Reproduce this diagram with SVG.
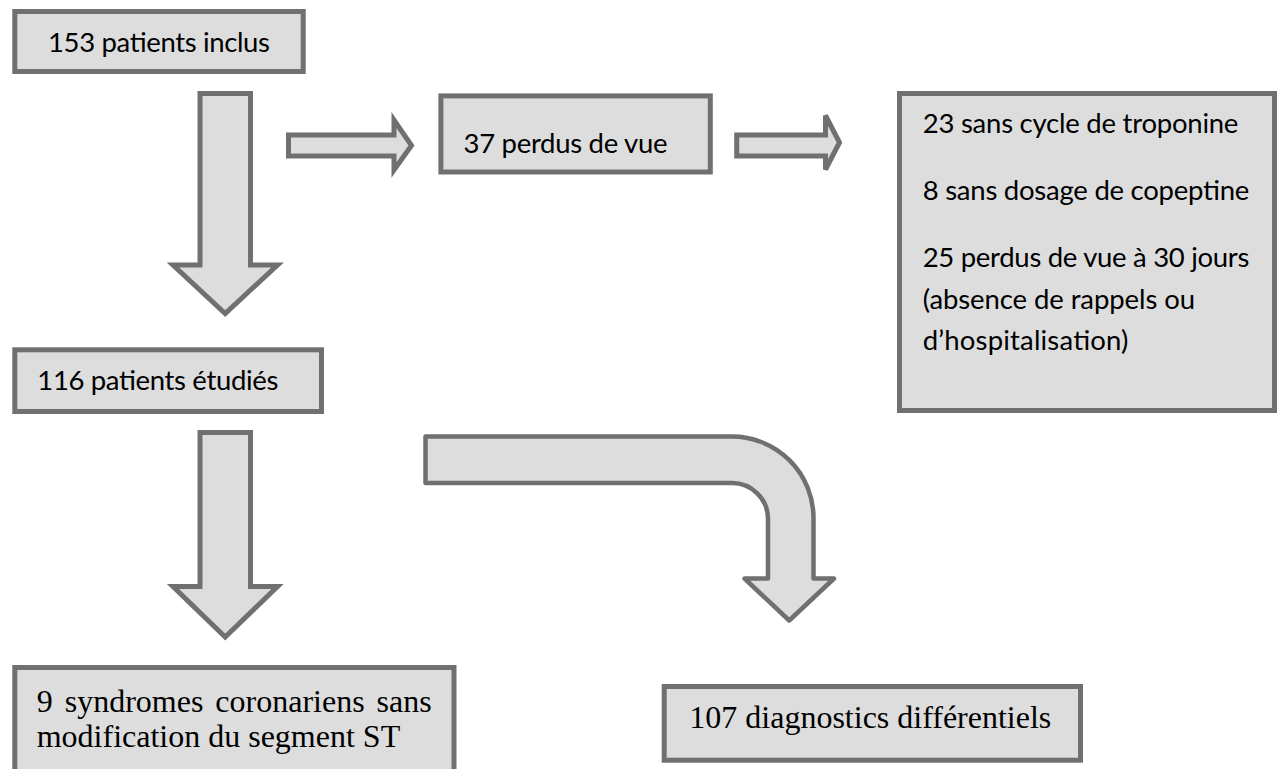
<svg xmlns="http://www.w3.org/2000/svg" width="1278" height="769" viewBox="0 0 1278 769">
<style>
.box{fill:#dddddd;stroke:#707070;stroke-width:5}
.arr{fill:#dddddd;stroke:#707070;stroke-width:5;stroke-linejoin:miter}
.barr{fill:#dddddd;stroke:#707070;stroke-width:4.5;stroke-linejoin:round}
.sans{font-family:"Lato","Liberation Sans",sans-serif;font-size:27.5px;fill:#000}
.serif{font-family:"Liberation Serif","Times New Roman",serif;font-size:32px;fill:#000}
</style>
<rect width="1278" height="769" fill="#ffffff"/>
<g id="connectors">
<path class="arr" d="M200,93.5 H250.5 V265 H277.5 L225.2,313.5 L173,265 H200 Z"/>
<path class="arr" d="M288.5,134.9 H394 V120 L411.5,145.5 L394,170 V156 H288.5 Z"/>
<path class="arr" d="M736.7,134.9 H825.5 V115.5 L839.5,142.5 L825.5,169.5 V156 H736.7 Z"/>
<path class="arr" d="M200,432.5 H250.5 V586.5 H277.5 L225.2,637 L173,586.5 H200 Z"/>
<path class="barr" d="M425.5,436.5 H732 A81.5,81.5 0 0 1 813.5,518 V578.5 H834 L789.2,620.5 L744.5,578.5 H768 V519 A36,36 0 0 0 732,483 H425.5 Z"/>
</g>
<g id="node-inclus">
<rect class="box" x="14.8" y="11.5" width="288.4" height="60"/>
<text class="sans" x="48" y="52" textLength="222">153 patients inclus</text>
</g>
<g id="node-perdus">
<rect class="box" x="440.9" y="95.9" width="269.4" height="76.1"/>
<text class="sans" x="463.5" y="152.7" textLength="204">37 perdus de vue</text>
</g>
<g id="node-details">
<rect class="box" x="899.5" y="93.5" width="375" height="317"/>
<text class="sans" x="922.7" y="133" textLength="315.7">23 sans cycle de troponine</text>
<text class="sans" x="922.7" y="200" textLength="326.7">8 sans dosage de copeptine</text>
<text class="sans" x="922.7" y="267" textLength="326.7">25 perdus de vue à 30 jours</text>
<text class="sans" x="922.7" y="309" textLength="272.3">(absence de rappels ou</text>
<text class="sans" x="922.7" y="350" textLength="205.7">d’hospitalisation)</text>
</g>
<g id="node-etudies">
<rect class="box" x="14.8" y="349.8" width="306.7" height="61.7"/>
<text class="sans" x="37.3" y="390" textLength="241">116 patients étudiés</text>
</g>
<g id="node-sca">
<rect class="box" x="14.8" y="667.5" width="439.2" height="110"/>
<text class="serif" x="36.7" y="711.7" word-spacing="4">9 syndromes coronariens sans</text>
<text class="serif" x="36.7" y="746.7">modification du segment ST</text>
</g>
<g id="node-diff">
<rect class="box" x="664.2" y="686.5" width="416.3" height="73.7"/>
<text class="serif" x="689.3" y="728.3">107 diagnostics différentiels</text>
</g>
</svg>
